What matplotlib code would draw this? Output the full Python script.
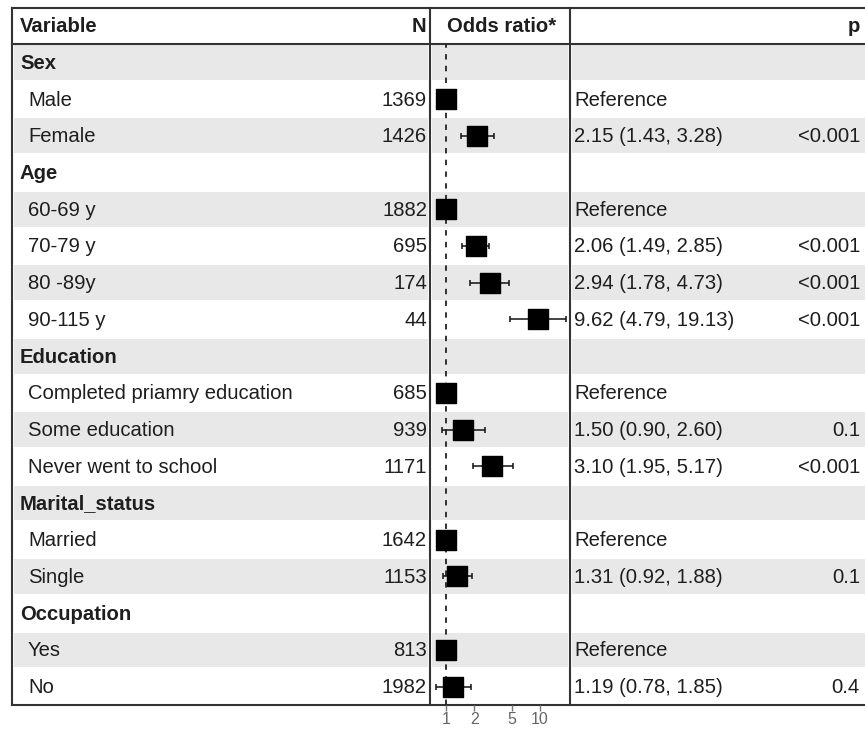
import numpy as np
import matplotlib.pyplot as plt
from matplotlib.patches import Rectangle

# ------------------------------------------
# DATA
# ------------------------------------------
labels = ["Sex", "Male", "Female",
          "Age", "60-69 y", "70-79 y", "80 -89y", "90-115 y",
          "Education", "Completed priamry education", "Some education", "Never went to school",
          "Marital_status", "Married", "Single",
          "Occupation", "Yes", "No"]
is_header = [True, False, False,
             True, False, False, False, False,
             True, False, False, False,
             True, False, False,
             True, False, False]
n_obs = ["", "1369", "1426",
         "", "1882", "695", "174", "44",
         "", "685", "939", "1171",
         "", "1642", "1153",
         "", "813", "1982"]
odds = [np.nan, 1.0, 2.15,
        np.nan, 1.0, 2.06, 2.94, 9.62,
        np.nan, 1.0, 1.50, 3.10,
        np.nan, 1.0, 1.31,
        np.nan, 1.0, 1.19]
ci_low = [np.nan, np.nan, 1.43,
          np.nan, np.nan, 1.49, 1.78, 4.79,
          np.nan, np.nan, 0.90, 1.95,
          np.nan, np.nan, 0.92,
          np.nan, np.nan, 0.78]
ci_high = [np.nan, np.nan, 3.28,
           np.nan, np.nan, 2.85, 4.73, 19.13,
           np.nan, np.nan, 2.60, 5.17,
           np.nan, np.nan, 1.88,
           np.nan, np.nan, 1.85]
p_text = ["", "", "<0.001",
          "", "", "<0.001", "<0.001", "<0.001",
          "", "", "0.1", "<0.001",
          "", "", "0.1",
          "", "", "0.4"]
x_ticks = [1, 2, 5, 10]

plt.rcParams['font.family'] = ['Liberation Sans', 'DejaVu Sans']

W, H = 865, 730
fig = plt.figure(figsize=(W / 100, H / 100), dpi=100)

# table layer in pixel coordinates
tab = fig.add_axes([0, 0, 1, 1])
tab.set_xlim(0, W)
tab.set_ylim(H, 0)
tab.axis('off')

left, right = 12, 870
top, head_bot, bottom = 8, 44, 705
div1, div2 = 430, 570
nrows = len(labels)
row_h = (bottom - head_bot) / nrows
txt = "#1e1e1e"
line_c = "#333333"
fs = 14.6

# alternating row shading
for i in range(nrows):
    if i % 2 == 0:
        y0 = head_bot + i * row_h + 1
        for x0, x1 in [(left + 2, div1 - 2), (div1 + 2, div2 - 2), (div2 + 2, right)]:
            tab.add_patch(Rectangle((x0, y0), x1 - x0, row_h - 2,
                                    facecolor="#e8e8e8", edgecolor="none", zorder=0))

# borders
tab.plot([left, right], [top, top], color=line_c, lw=1.5)
tab.plot([left, right], [head_bot, head_bot], color=line_c, lw=1.5)
tab.plot([left, right], [bottom, bottom], color=line_c, lw=1.5)
for x in [left, div1, div2]:
    tab.plot([x, x], [top, bottom], color=line_c, lw=1.5)

# header
hy = (top + head_bot) / 2 + 1
tab.text(20, hy, "Variable", fontsize=fs, fontweight='bold', color=txt, va='center')
tab.text(426, hy, "N", fontsize=fs, fontweight='bold', color=txt, va='center', ha='right')
tab.text(447, hy, "Odds ratio*", fontsize=fs, fontweight='bold', color=txt, va='center')
tab.text(860, hy, "p", fontsize=fs, fontweight='bold', color=txt, va='center', ha='right')

# row text
for i in range(nrows):
    y = head_bot + (i + 0.5) * row_h + 1
    if is_header[i]:
        tab.text(20, y, labels[i], fontsize=fs, fontweight='bold', color=txt, va='center')
        continue
    tab.text(28, y, labels[i], fontsize=fs, color=txt, va='center')
    tab.text(427, y, n_obs[i], fontsize=fs, color=txt, va='center', ha='right')
    if np.isnan(ci_low[i]):
        est = "Reference"
    else:
        est = f"{odds[i]:.2f} ({ci_low[i]:.2f}, {ci_high[i]:.2f})"
    tab.text(574, y, est, fontsize=fs, color=txt, va='center')
    tab.text(860, y, p_text[i], fontsize=fs, color=txt, va='center', ha='right')

# ------------------------------------------
# FOREST PANEL
# ------------------------------------------
ax = fig.add_axes([div1 / W, (H - bottom) / H, (div2 - div1) / W, (bottom - head_bot) / H])
ax.patch.set_alpha(0)
ax.set_xscale('log')
ax.set_xlim(10 ** ((div1 - 446) / 94), 10 ** ((div2 - 446) / 94))
ax.set_ylim(nrows - 0.5, -0.5)
for s in ax.spines.values():
    s.set_visible(False)
ax.set_yticks([])
ax.set_xticks(x_ticks)
ax.set_xticklabels([str(t) for t in x_ticks])
ax.xaxis.set_minor_locator(plt.NullLocator())
ax.tick_params(axis='x', length=4, width=1, color="#777777", labelcolor="#666666",
               labelsize=11.5, pad=1)

ax.axvline(1, color="#222222", lw=1.3, ls=(0, (3, 3.5)), zorder=1)

rows = np.arange(nrows)
odds_a = np.array(odds)
lo_a = np.array(ci_low)
hi_a = np.array(ci_high)
has_ci = ~np.isnan(lo_a)
ax.errorbar(odds_a[has_ci], rows[has_ci],
            xerr=[odds_a[has_ci] - lo_a[has_ci], hi_a[has_ci] - odds_a[has_ci]],
            fmt='none', ecolor="#111111", elinewidth=1.1, capsize=2.5, capthick=1.1, zorder=2)
has_or = ~np.isnan(odds_a)
ax.scatter(odds_a[has_or], rows[has_or], marker='s', s=210, color="black", zorder=3)

plt.savefig("out.png", dpi=100)
